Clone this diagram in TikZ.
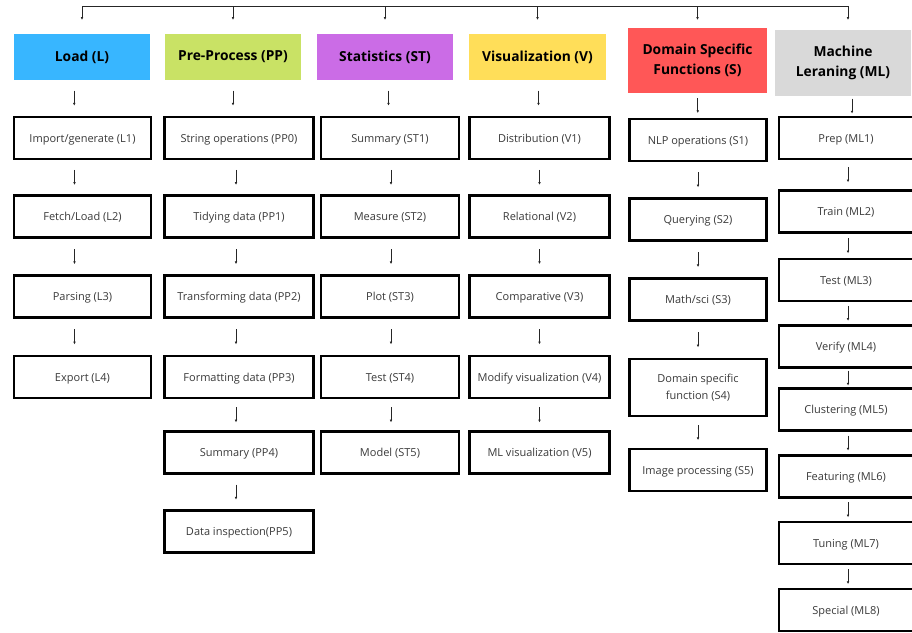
\documentclass[tikz,border=0pt]{standalone}
\usepackage{fontspec}
\setmainfont{Open Sans}
\usetikzlibrary{arrows.meta,calc}
\definecolor{cL}{HTML}{38B6FF}
\definecolor{cPP}{HTML}{C9E265}
\definecolor{cST}{HTML}{CB6CE6}
\definecolor{cV}{HTML}{FFDE59}
\definecolor{cS}{HTML}{FF5757}
\definecolor{cML}{HTML}{D9D9D9}
\definecolor{txt}{HTML}{3A3A3A}
\begin{document}
\begin{tikzpicture}[x=1pt,y=-1pt,
  head/.style={draw=none,inner sep=0pt,align=center,text=black,font=\fontsize{13.8}{20}\selectfont\bfseries},
  boxbase/.style={draw=black,line width=2.4pt,inner sep=0pt,align=center,text=txt,font=\fontsize{11}{17}\selectfont,minimum height=42pt},
  box/.style={boxbase,text height=1.0em,text depth=0.12em},
  arr/.style={draw=black!85,line width=0.9pt,-{Latex[length=2.6pt,width=2.6pt]}},
  short/.style={to path={($(\tikztostart)!0.5!(\tikztotarget)+(0,-7.5)$) -- ($(\tikztostart)!0.5!(\tikztotarget)+(0,7.5)$)}}]
\useasboundingbox[fill=white] (0,0) rectangle (912,632);
% headers
\node[head,fill=cL,minimum width=136pt,minimum height=46pt] (Lh) at (82,57) {Load (L)};
\node[head,fill=cPP,minimum width=136pt,minimum height=46pt] (PPh) at (233,57) {Pre-Process (PP)};
\node[head,fill=cST,minimum width=136pt,minimum height=46pt] (STh) at (385,57) {Statistics (ST)};
\node[head,fill=cV,minimum width=137pt,minimum height=46pt] (Vh) at (537.5,57) {Visualization (V)};
\node[head,fill=cS,minimum width=139pt,minimum height=65pt] (Sh) at (697.5,60.5) {Domain Specific\\Functions (S)};
\node[head,fill=cML,minimum width=136pt,minimum height=66pt] (MLh) at (843,63) {Machine\\Leraning (ML)};
% L column
\node[box,minimum width=137pt] (L1) at (82.5,138) {Import/generate (L1)};
\node[box,minimum width=137pt] (L2) at (82.5,216.5) {Fetch/Load (L2)};
\node[box,minimum width=137pt] (L3) at (82.5,296.5) {Parsing (L3)};
\node[box,minimum width=137pt] (L4) at (82.5,377) {Export (L4)};
% PP column
\node[box,minimum width=149pt] (PP0) at (239,138) {String operations (PP0)};
\node[box,minimum width=149pt] (PP1) at (239,216.5) {Tidying data (PP1)};
\node[box,minimum width=149pt] (PP2) at (239,296.5) {Transforming data (PP2)};
\node[box,minimum width=149pt] (PP3) at (239,377) {Formatting data (PP3)};
\node[box,minimum width=149pt] (PP4) at (239,452.5) {Summary (PP4)};
\node[box,minimum width=149pt] (PP5) at (239,531.5) {Data inspection(PP5)};
% ST column
\node[box,minimum width=138pt] (ST1) at (390,138) {Summary (ST1)};
\node[box,minimum width=138pt] (ST2) at (390,216.5) {Measure (ST2)};
\node[box,minimum width=138pt] (ST3) at (390,296.5) {Plot (ST3)};
\node[box,minimum width=138pt] (ST4) at (390,377) {Test (ST4)};
\node[box,minimum width=138pt] (ST5) at (390,452.5) {Model (ST5)};
% V column
\node[box,minimum width=140pt] (V1) at (539.5,138) {Distribution (V1)};
\node[box,minimum width=140pt] (V2) at (539.5,216.5) {Relational (V2)};
\node[box,minimum width=140pt] (V3) at (539.5,296.5) {Comparative (V3)};
\node[box,minimum width=140pt] (V4) at (539.5,377) {Modify visualization (V4)};
\node[box,minimum width=140pt] (V5) at (539.5,452.5) {ML visualization (V5)};
% S column
\node[box,minimum width=137pt] (S1) at (698,140) {NLP operations (S1)};
\node[box,minimum width=137pt] (S2) at (698,219.5) {Querying (S2)};
\node[box,minimum width=137pt] (S3) at (698,299.5) {Math/sci (S3)};
\node[boxbase,minimum width=137pt,minimum height=57pt] (S4) at (698,387.5) {Domain specific\\function (S4)};
\node[box,minimum width=137pt] (S5) at (698,470) {Image processing (S5)};
% ML column
\node[box,minimum width=134pt] (ML1) at (846,138) {Prep (ML1)};
\node[box,minimum width=134pt] (ML2) at (846,211.5) {Train (ML2)};
\node[box,minimum width=134pt] (ML3) at (846,280) {Test (ML3)};
\node[box,minimum width=134pt] (ML4) at (846,346.5) {Verify (ML4)};
\node[box,minimum width=134pt] (ML5) at (846,409.5) {Clustering (ML5)};
\node[box,minimum width=134pt] (ML6) at (846,476.5) {Featuring (ML6)};
\node[box,minimum width=134pt] (ML7) at (846,543) {Tuning (ML7)};
\node[box,minimum width=134pt] (ML8) at (846,610) {Special (ML8)};
% top bar
\coordinate (bar) at (0,6);
\draw[draw=black!85,line width=0.9pt] (Lh.north |- bar) -- ([xshift=5pt]MLh.north |- bar);
\draw[arr,shorten >=14pt] (Lh.north |- bar) -- (Lh.north);
\draw[arr,shorten >=14pt] (PPh.north |- bar) -- (PPh.north);
\draw[arr,shorten >=14pt] (STh.north |- bar) -- (STh.north);
\draw[arr,shorten >=14pt] (Vh.north |- bar) -- (Vh.north);
\draw[arr,shorten >=8pt] (Sh.north |- bar) -- (Sh.north);
\draw[arr,shorten >=10pt] ([xshift=5pt]MLh.north |- bar) -- ([xshift=5pt]MLh.north);
% column arrows
\foreach \a/\b in {Lh/L1,L1/L2,L2/L3,L3/L4}
  \draw[arr] ([xshift=-8pt]\a.south) to[short] ([xshift=-8pt]\b.north);
\foreach \a/\b in {PPh/PP0,PP0/PP1,PP1/PP2,PP2/PP3,PP3/PP4,PP4/PP5}
  \draw[arr] ([xshift=-3pt]\a.south) to[short] ([xshift=-3pt]\b.north);
\foreach \a/\b in {STh/ST1,ST1/ST2,ST2/ST3,ST3/ST4,ST4/ST5}
  \draw[arr] ([xshift=1pt]\a.south) to[short] ([xshift=1pt]\b.north);
\foreach \a/\b in {Vh/V1,V1/V2,V2/V3,V3/V4,V4/V5}
  \draw[arr] (\a.south) to[short] (\b.north);
\foreach \a/\b in {Sh/S1,S1/S2,S2/S3,S3/S4,S4/S5}
  \draw[arr] (\a.south) to[short] (\b.north);
\foreach \a/\b in {ML1/ML2,ML2/ML3,ML3/ML4,ML4/ML5,ML5/ML6,ML6/ML7,ML7/ML8}
  \draw[arr] ([xshift=2pt]\a.south) to[short] ([xshift=2pt]\b.north);
\draw[arr] ([xshift=9pt]MLh.south) to[short] ([xshift=6pt]ML1.north);
\end{tikzpicture}
\end{document}
